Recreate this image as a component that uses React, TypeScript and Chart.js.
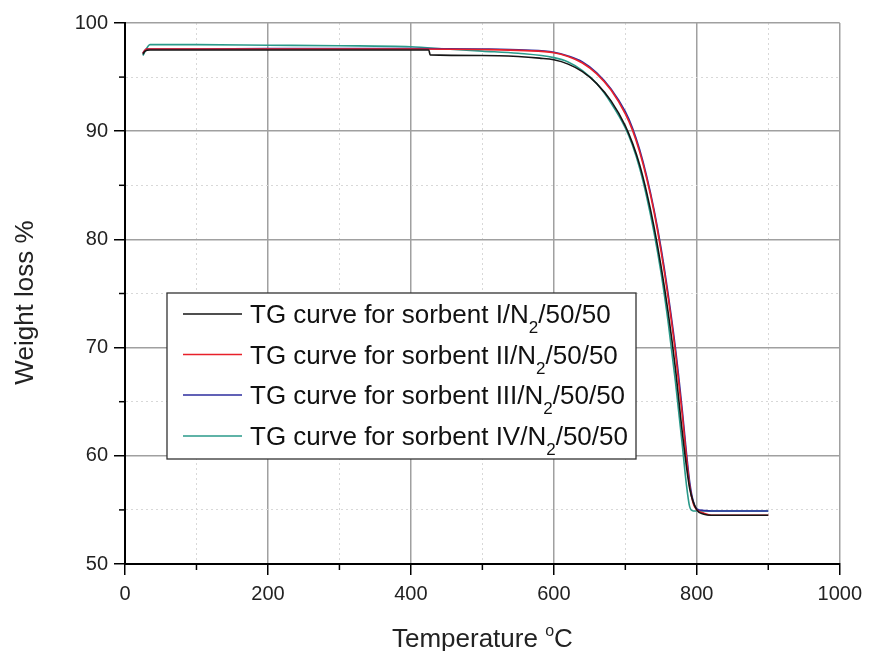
import React, { useEffect, useRef } from "react";
import { Chart, registerables } from "chart.js";

Chart.register(...registerables);

const FONT = '"Liberation Sans", Arial, sans-serif';

const seriesLabels = [
  "TG curve for sorbent I",
  "TG curve for sorbent II",
  "TG curve for sorbent III",
  "TG curve for sorbent IV",
];
const seriesColors = ["#151515", "#e8202a", "#2c2c9e", "#2a9a8a"];

const tempI = [25, 28, 35, 100, 200, 300, 400, 425, 427, 500, 550, 580, 600, 620, 640, 660, 680, 700, 710, 720, 730, 740, 750, 760, 770, 780, 790, 800, 810, 820, 860, 900];
const weightI = [97.1, 97.4, 97.5, 97.5, 97.5, 97.5, 97.5, 97.5, 97.05, 97.0, 96.9, 96.75, 96.6, 96.2, 95.5, 94.4, 92.8, 90.5, 88.9, 86.9, 84.3, 81.2, 77.5, 73.2, 68.1, 62.0, 57.0, 55.0, 54.6, 54.5, 54.5, 54.5];

const tempII = [25, 30, 100, 200, 300, 400, 500, 560, 600, 620, 640, 660, 680, 700, 710, 720, 730, 740, 750, 760, 770, 780, 785, 790, 795, 800, 810, 820, 860, 900];
const weightII = [97.2, 97.6, 97.6, 97.6, 97.6, 97.6, 97.55, 97.45, 97.25, 96.9, 96.3, 95.3, 93.8, 91.6, 90.1, 88.1, 85.6, 82.6, 78.9, 74.6, 69.6, 63.6, 60.2, 57.2, 55.6, 55.0, 54.7, 54.5, 54.5, 54.5];

const tempIII = [25, 30, 100, 200, 300, 400, 500, 560, 600, 620, 640, 660, 680, 700, 710, 720, 730, 740, 750, 760, 770, 780, 785, 790, 795, 800, 810, 820, 860, 900];
const weightIII = [97.2, 97.6, 97.6, 97.65, 97.65, 97.65, 97.6, 97.5, 97.3, 96.95, 96.4, 95.4, 93.9, 91.8, 90.3, 88.3, 85.8, 82.8, 79.2, 74.9, 70.0, 64.0, 60.6, 57.6, 55.8, 55.1, 54.95, 54.9, 54.9, 54.9];

const tempIV = [25, 35, 100, 200, 300, 400, 450, 500, 550, 600, 620, 640, 660, 680, 700, 710, 720, 730, 740, 750, 760, 770, 780, 785, 790, 795, 800, 820, 860, 900];
const weightIV = [97.0, 98.0, 98.0, 97.95, 97.9, 97.8, 97.6, 97.4, 97.2, 96.8, 96.4, 95.6, 94.4, 92.6, 90.3, 88.7, 86.6, 83.9, 80.7, 76.9, 72.3, 66.9, 60.8, 57.6, 55.3, 54.9, 54.9, 54.9, 54.9, 54.9];

const xMin = 0, xMax = 1000, xStep = 100, xLabelStep = 200;
const yMin = 50, yMax = 100, yStep = 5, yLabelStep = 10;

const xTitle = "Temperature ";
const xTitleSup = "o";
const xTitleEnd = "C";
const yTitle = "Weight loss %";

const temps = [tempI, tempII, tempIII, tempIV];
const weights = [weightI, weightII, weightIII, weightIV];

const isMajor = (v: number, step: number) => Math.abs(v / step - Math.round(v / step)) < 1e-6;

const decorPlugin = {
  id: "decor",
  afterDraw(chart: any) {
    const { ctx, chartArea, scales } = chart;
    const xs = scales.x, ys = scales.y;
    ctx.save();
    // minor ticks
    ctx.strokeStyle = "#000";
    ctx.lineWidth = 1.5;
    for (let v = xMin; v <= xMax; v += xStep) {
      if (isMajor(v, xLabelStep)) continue;
      const px = xs.getPixelForValue(v);
      ctx.beginPath();
      ctx.moveTo(px, chartArea.bottom);
      ctx.lineTo(px, chartArea.bottom + 6);
      ctx.stroke();
    }
    for (let v = yMin; v <= yMax; v += yStep) {
      if (isMajor(v, yLabelStep)) continue;
      const py = ys.getPixelForValue(v);
      ctx.beginPath();
      ctx.moveTo(chartArea.left, py);
      ctx.lineTo(chartArea.left - 6, py);
      ctx.stroke();
    }
    // axis titles
    ctx.fillStyle = "#222";
    ctx.textBaseline = "alphabetic";
    ctx.font = `26px ${FONT}`;
    ctx.save();
    ctx.translate(33, (chartArea.top + chartArea.bottom) / 2 + 9);
    ctx.rotate(-Math.PI / 2);
    ctx.textAlign = "center";
    ctx.fillText(yTitle, 0, 0);
    ctx.restore();

    ctx.textAlign = "left";
    ctx.font = `26px ${FONT}`;
    const w1 = ctx.measureText(xTitle).width;
    const w3 = ctx.measureText(xTitleEnd).width;
    ctx.font = `16px ${FONT}`;
    const w2 = ctx.measureText(xTitleSup).width;
    const total = w1 + w2 + w3;
    const x0 = (chartArea.left + chartArea.right) / 2 - total / 2;
    const base = 647;
    ctx.font = `26px ${FONT}`;
    ctx.fillText(xTitle, x0, base);
    ctx.font = `16px ${FONT}`;
    ctx.fillText(xTitleSup, x0 + w1, base - 11);
    ctx.font = `26px ${FONT}`;
    ctx.fillText(xTitleEnd, x0 + w1 + w2, base);

    // legend
    const bx = 167, by = 293, bw = 469, bh = 166;
    ctx.fillStyle = "#fff";
    ctx.fillRect(bx, by, bw, bh);
    ctx.strokeStyle = "#333";
    ctx.lineWidth = 1.3;
    ctx.strokeRect(bx, by, bw, bh);
    const baselines = [323, 363.5, 404, 445];
    seriesLabels.forEach((lab, i) => {
      const bl = baselines[i];
      ctx.strokeStyle = seriesColors[i];
      ctx.lineWidth = 1.4;
      ctx.beginPath();
      ctx.moveTo(183, bl - 9);
      ctx.lineTo(242, bl - 9);
      ctx.stroke();
      ctx.fillStyle = "#111";
      ctx.font = `26px ${FONT}`;
      const main = lab + "/N";
      ctx.fillText(main, 250, bl);
      let cx = 250 + ctx.measureText(main).width;
      ctx.font = `17px ${FONT}`;
      ctx.fillText("2", cx, bl + 10);
      cx += ctx.measureText("2").width;
      ctx.font = `26px ${FONT}`;
      ctx.fillText("/50/50", cx, bl);
    });
    ctx.restore();
  },
};

export default function App() {
  const ref = useRef<HTMLCanvasElement | null>(null);
  useEffect(() => {
    document.body.style.margin = "0";
    const canvas = ref.current!;
    const chart = new Chart(canvas, {
      type: "scatter",
      data: {
        datasets: seriesLabels.map((lab, i) => ({
          label: lab,
          data: temps[i].map((t, j) => ({ x: t, y: weights[i][j] })),
          showLine: true,
          borderColor: seriesColors[i],
          backgroundColor: seriesColors[i],
          borderWidth: 1.6,
          pointRadius: 0,
          cubicInterpolationMode: "monotone" as const,
        })),
      },
      options: {
        animation: false,
        responsive: false,
        devicePixelRatio: 1,
        layout: { padding: { left: 0, right: 28, top: 23, bottom: 0 } },
        plugins: { legend: { display: false }, tooltip: { enabled: false } },
        scales: {
          x: {
            type: "linear",
            min: xMin,
            max: xMax,
            afterFit: (s: any) => { s.height = 87; },
            ticks: {
              stepSize: xStep,
              autoSkip: false,
              maxRotation: 0,
              padding: 7,
              color: "#222",
              font: { family: FONT, size: 20 },
              callback: (v: any) => (isMajor(Number(v), xLabelStep) ? String(v) : ""),
            },
            grid: {
              color: (c: any) => (c.tick && !isMajor(c.tick.value, xLabelStep) ? "#d8d8d8" : "#a0a0a0"),
              lineWidth: (c: any) => (c.tick && !isMajor(c.tick.value, xLabelStep) ? 1 : 1.5),
              tickLength: 11,
              tickWidth: 1.5,
              tickColor: (c: any) => (c.tick && !isMajor(c.tick.value, xLabelStep) ? "rgba(0,0,0,0)" : "#000"),
            },
            border: {
              display: true,
              color: "#000",
              width: 2,
              dash: (c: any) => (c.tick && !isMajor(c.tick.value, xLabelStep) ? [2, 3] : []),
            },
          },
          y: {
            type: "linear",
            min: yMin,
            max: yMax,
            afterFit: (s: any) => { s.width = 125; },
            ticks: {
              stepSize: yStep,
              autoSkip: false,
              padding: 6,
              color: "#222",
              font: { family: FONT, size: 20 },
              callback: (v: any) => (isMajor(Number(v), yLabelStep) ? String(v) : ""),
            },
            grid: {
              color: (c: any) => (c.tick && !isMajor(c.tick.value, yLabelStep) ? "#d8d8d8" : "#a0a0a0"),
              lineWidth: (c: any) => (c.tick && !isMajor(c.tick.value, yLabelStep) ? 1 : 1.5),
              tickLength: 11,
              tickWidth: 1.5,
              tickColor: (c: any) => (c.tick && !isMajor(c.tick.value, yLabelStep) ? "rgba(0,0,0,0)" : "#000"),
            },
            border: {
              display: true,
              color: "#000",
              width: 2,
              dash: (c: any) => (c.tick && !isMajor(c.tick.value, yLabelStep) ? [2, 3] : []),
            },
          },
        },
      },
      plugins: [decorPlugin],
    } as any);
    return () => chart.destroy();
  }, []);
  return (
    <div style={{ width: 869, height: 651, background: "#fff" }}>
      <canvas ref={ref} width={869} height={651} style={{ display: "block" }} />
    </div>
  );
}
